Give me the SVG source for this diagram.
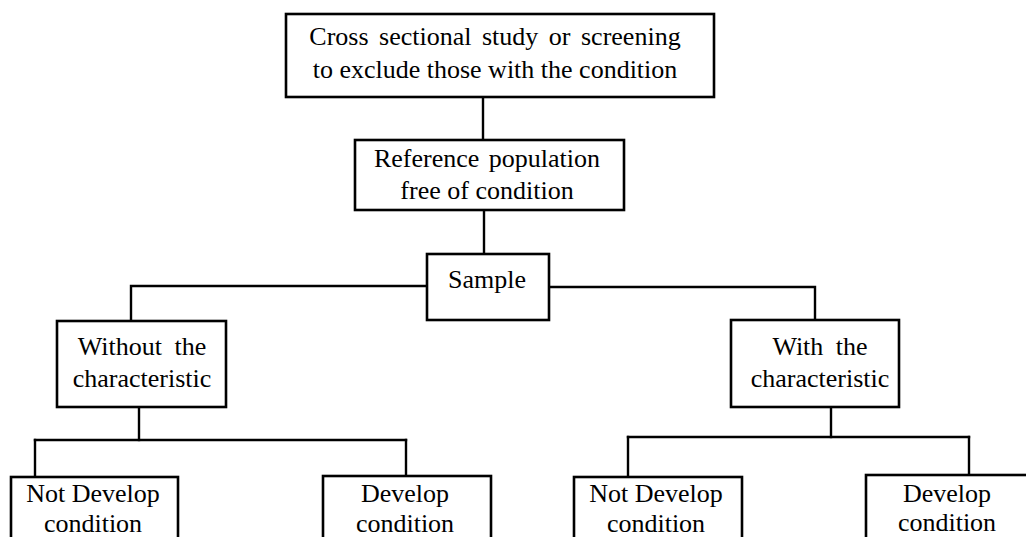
<svg xmlns="http://www.w3.org/2000/svg" width="1026" height="537" viewBox="0 0 1026 537">
  <style>
    .box { fill: #fff; stroke: #000; stroke-width: 2.6; }
    .link { fill: none; stroke: #000; stroke-width: 2.4; stroke-linejoin: miter; stroke-linecap: square; }
    .label { font-family: "Liberation Serif", "Times New Roman", serif; font-size: 26px; fill: #000; text-anchor: middle; }
  </style>
  <rect width="1026" height="537" fill="#fff"/>

  <!-- connectors -->
  <g id="connectors">
    <path class="link" d="M483 97 V140"/>
    <path class="link" d="M484 210 V254"/>
    <path class="link" d="M427 286 H131 V321"/>
    <path class="link" d="M549 287 H815 V320"/>
    <path class="link" d="M139 407 V440"/>
    <path class="link" d="M35 440 H406"/>
    <path class="link" d="M35 440 V477"/>
    <path class="link" d="M406 440 V476"/>
    <path class="link" d="M831 407 V437"/>
    <path class="link" d="M628 437 H969"/>
    <path class="link" d="M628 437 V477"/>
    <path class="link" d="M969 437 V475"/>
  </g>

  <g id="screening">
    <rect class="box" x="286" y="14" width="428" height="83"/>
    <text class="label" x="495" y="45" word-spacing="4">Cross sectional study or screening</text>
    <text class="label" x="495" y="78">to exclude those with the condition</text>
  </g>

  <g id="reference">
    <rect class="box" x="355" y="140" width="269" height="70"/>
    <text class="label" x="487" y="167" word-spacing="3">Reference population</text>
    <text class="label" x="487" y="199">free of condition</text>
  </g>

  <g id="sample">
    <rect class="box" x="427" y="254" width="122" height="66"/>
    <text class="label" x="487" y="288">Sample</text>
  </g>

  <g id="without">
    <rect class="box" x="57" y="321" width="169" height="86"/>
    <text class="label" x="142" y="355" word-spacing="6">Without the</text>
    <text class="label" x="142" y="387">characteristic</text>
  </g>

  <g id="with">
    <rect class="box" x="731" y="320" width="168" height="87"/>
    <text class="label" x="820" y="355" word-spacing="6">With the</text>
    <text class="label" x="820" y="387">characteristic</text>
  </g>

  <g id="without-not-develop">
    <rect class="box" x="11" y="477" width="167" height="75"/>
    <text class="label" x="93" y="502">Not Develop</text>
    <text class="label" x="93" y="532">condition</text>
  </g>

  <g id="without-develop">
    <rect class="box" x="323" y="476" width="168" height="76"/>
    <text class="label" x="405" y="502">Develop</text>
    <text class="label" x="405" y="532">condition</text>
  </g>

  <g id="with-not-develop">
    <rect class="box" x="574" y="477" width="168" height="75"/>
    <text class="label" x="656" y="502">Not Develop</text>
    <text class="label" x="656" y="532">condition</text>
  </g>

  <g id="with-develop">
    <rect class="box" x="866" y="475" width="180" height="77"/>
    <text class="label" x="947" y="502">Develop</text>
    <text class="label" x="947" y="531">condition</text>
  </g>
</svg>
